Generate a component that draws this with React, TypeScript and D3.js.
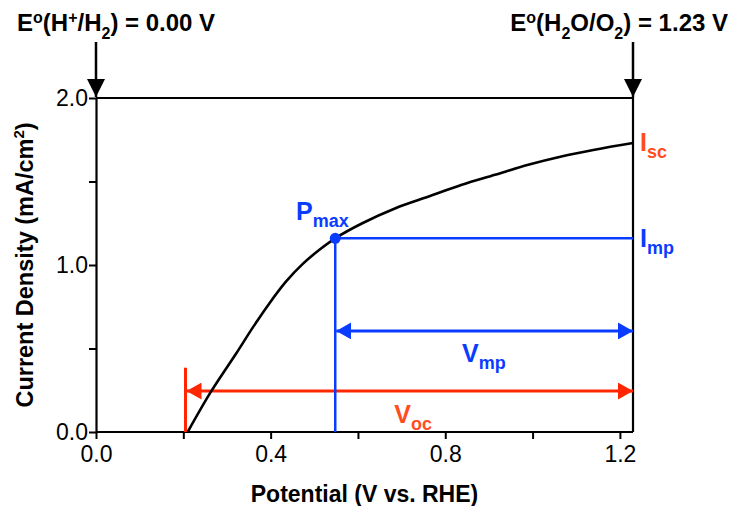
import {useEffect, useRef} from 'react';
import * as d3 from 'd3';

const [W, H] = [732, 506];
const margin = {left: 96, right: 99, top: 98, bottom: 74};

// J-V curve
const potential = [0.21, 0.263, 0.321, 0.359, 0.397, 0.435, 0.473, 0.511, 0.548, 0.61, 0.686, 0.762, 0.838, 0.914, 0.99, 1.066, 1.142, 1.23];
const current = [0, 0.24, 0.47, 0.625, 0.77, 0.9, 1.005, 1.09, 1.16, 1.25, 1.34, 1.41, 1.48, 1.54, 1.60, 1.65, 1.69, 1.73];

const xTicks = [0, 0.2, 0.4, 0.6, 0.8, 1.0, 1.2];
const xLabels = [0, 0.4, 0.8, 1.2];
const yTicks = [0, 0.5, 1.0, 1.5, 2.0];
const yLabels = [0, 1.0, 2.0];

const pMax = [0.548, 1.16];
const vOc = 0.205;
const eRev = 1.23;
const vocArrowY = 0.245;
const vmpArrowY = 0.605;
const vocBarTop = 0.385;

const RED = '#ff2600';
const ORANGE = '#ff4d1f';
const BLUE = '#0a3cff';
const FONT = '"Liberation Sans", Arial, sans-serif';

function App() {
    const ref = useRef<SVGSVGElement>(null);

    useEffect(() => {
        const svg = d3.select(ref.current);
        svg.selectAll('*').remove();

        const x = d3.scaleLinear().domain([0, eRev]).range([margin.left, W - margin.right]);
        const y = d3.scaleLinear().domain([0, 2]).range([H - margin.bottom, margin.top]);

        const defs = svg.append('defs');
        const marker = (id, color, len, wid) => {
            defs.append('marker')
                .attr('id', id)
                .attr('viewBox', `0 0 ${len} ${wid}`)
                .attr('refX', len).attr('refY', wid / 2)
                .attr('markerWidth', len).attr('markerHeight', wid)
                .attr('markerUnits', 'userSpaceOnUse')
                .attr('orient', 'auto-start-reverse')
                .append('path')
                .attr('d', `M0,0L${len},${wid / 2}L0,${wid}Z`)
                .attr('fill', color);
        };
        marker('blk', '#000', 18, 18);
        marker('red', RED, 15, 17);
        marker('blu', BLUE, 15, 17);

        // frame
        svg.append('path')
            .attr('d', `M${x(0)},${y(2)}H${x(eRev)}V${y(0)}`)
            .attr('fill', 'none').attr('stroke', '#000').attr('stroke-width', 2.2);

        // x axis
        const xa = svg.append('g').attr('transform', `translate(0,${y(0)})`)
            .call(d3.axisBottom(x).tickValues(xTicks).tickSize(7).tickSizeOuter(0)
                .tickFormat(d => xLabels.some(v => Math.abs(v - d) < 1e-9) ? d3.format('.1f')(d) : ''));
        xa.select('.domain').attr('stroke-width', 2.2).attr('d', `M${x(0)},0H${x(eRev)}`);
        xa.selectAll('line').attr('stroke-width', 2);
        xa.selectAll('text').attr('font-size', 23).attr('font-family', FONT).attr('dy', '0.85em').attr('fill', '#000');

        // y axis
        const ya = svg.append('g').attr('transform', `translate(${x(0)},0)`)
            .call(d3.axisLeft(y).tickValues(yTicks).tickSize(7).tickSizeOuter(0)
                .tickFormat(d => yLabels.some(v => Math.abs(v - d) < 1e-9) ? d3.format('.1f')(d) : ''));
        ya.select('.domain').attr('stroke-width', 2.2);
        ya.selectAll('line').attr('stroke-width', 2);
        ya.selectAll('text').attr('font-size', 23).attr('font-family', FONT).attr('x', -8).attr('fill', '#000');

        // axis titles
        svg.append('text')
            .attr('x', x(eRev / 2) + 0).attr('y', 502)
            .attr('text-anchor', 'middle').attr('font-size', 23).attr('font-weight', 'bold').attr('font-family', FONT)
            .text('Potential (V vs. RHE)');
        const yt = svg.append('text')
            .attr('transform', `translate(33,${y(1)}) rotate(-90)`)
            .attr('text-anchor', 'middle').attr('font-size', 23.5).attr('font-weight', 'bold').attr('font-family', FONT);
        yt.append('tspan').text('Current Density (mA/cm');
        yt.append('tspan').attr('dy', -9).attr('font-size', 15).text('2');
        yt.append('tspan').attr('dy', 9).text(')');

        // red Voc annotations
        svg.append('line')
            .attr('x1', x(vOc)).attr('x2', x(vOc)).attr('y1', y(0)).attr('y2', y(vocBarTop))
            .attr('stroke', RED).attr('stroke-width', 3);
        svg.append('line')
            .attr('x1', x(vOc) + 1).attr('x2', x(eRev)).attr('y1', y(vocArrowY)).attr('y2', y(vocArrowY))
            .attr('stroke', RED).attr('stroke-width', 3)
            .attr('marker-start', 'url(#red)').attr('marker-end', 'url(#red)');

        // blue Pmax annotations
        svg.append('line')
            .attr('x1', x(pMax[0])).attr('x2', x(pMax[0])).attr('y1', y(0)).attr('y2', y(pMax[1]))
            .attr('stroke', BLUE).attr('stroke-width', 2.5);
        svg.append('line')
            .attr('x1', x(pMax[0])).attr('x2', x(eRev)).attr('y1', y(pMax[1])).attr('y2', y(pMax[1]))
            .attr('stroke', BLUE).attr('stroke-width', 2.5);
        svg.append('line')
            .attr('x1', x(pMax[0]) + 1).attr('x2', x(eRev)).attr('y1', y(vmpArrowY)).attr('y2', y(vmpArrowY))
            .attr('stroke', BLUE).attr('stroke-width', 3)
            .attr('marker-start', 'url(#blu)').attr('marker-end', 'url(#blu)');

        // J-V curve
        const line = d3.line().x(d => x(d[0])).y(d => y(d[1])).curve(d3.curveCatmullRom.alpha(0.5));
        svg.append('path')
            .attr('d', line(potential.map((p, i) => [p, current[i]])))
            .attr('fill', 'none').attr('stroke', '#000').attr('stroke-width', 2.6);

        svg.append('circle')
            .attr('cx', x(pMax[0])).attr('cy', y(pMax[1])).attr('r', 5.5).attr('fill', BLUE);

        // sub-scripted labels
        const subLabel = (px, py, main, sub, color, size) => {
            const t = svg.append('text').attr('x', px).attr('y', py)
                .attr('font-family', FONT).attr('font-weight', 'bold').attr('font-size', size)
                .attr('fill', color);
            t.append('tspan').text(main);
            t.append('tspan').attr('dy', 7).attr('font-size', size * 0.72).text(sub);
        };
        subLabel(x(eRev) + 7, y(1.73) + 8, 'I', 'sc', ORANGE, 25);
        subLabel(x(eRev) + 7, y(pMax[1]) + 9, 'I', 'mp', BLUE, 25);
        subLabel(296, 220, 'P', 'max', BLUE, 25);
        subLabel(x((pMax[0] + eRev) / 2) - 22, y(vmpArrowY) + 31, 'V', 'mp', BLUE, 25);
        subLabel(x((vOc + eRev) / 2) - 15, y(vocArrowY) + 32, 'V', 'oc', ORANGE, 25);

        // top reference arrows
        [0, eRev].forEach(v => {
            svg.append('line')
                .attr('x1', x(v)).attr('x2', x(v)).attr('y1', 42).attr('y2', y(2) - 1)
                .attr('stroke', '#000').attr('stroke-width', 2.5).attr('marker-end', 'url(#blk)');
        });
        const topLabel = (px, anchor, parts) => {
            const t = svg.append('text').attr('x', px).attr('y', 31)
                .attr('font-family', FONT).attr('font-weight', 'bold').attr('font-size', 24)
                .attr('text-anchor', anchor);
            parts.forEach(([s, kind]) => {
                const sp = t.append('tspan').text(s);
                if (kind === 'sup') sp.attr('dy', -8).attr('font-size', 16);
                if (kind === 'sub') sp.attr('dy', 8).attr('font-size', 16);
                if (kind === 'up') sp.attr('dy', -8);
                if (kind === 'down') sp.attr('dy', 8);
            });
        };
        topLabel(17, 'start', [['E', ''], ['o', 'sup'], ['(H', 'down'], ['+', 'sup'], ['/H', 'down'], ['2', 'sub'], [') = 0.00 V', 'up']]);
        topLabel(728, 'end', [['E', ''], ['o', 'sup'], ['(H', 'down'], ['2', 'sub'], ['O/O', 'up'], ['2', 'sub'], [') = 1.23 V', 'up']]);
    }, []);

    return (
        <div style={{position: 'absolute', left: 0, top: 0, background: '#fff'}}>
            <svg ref={ref} width={W} height={H} />
        </div>
    );
}

export default App;
